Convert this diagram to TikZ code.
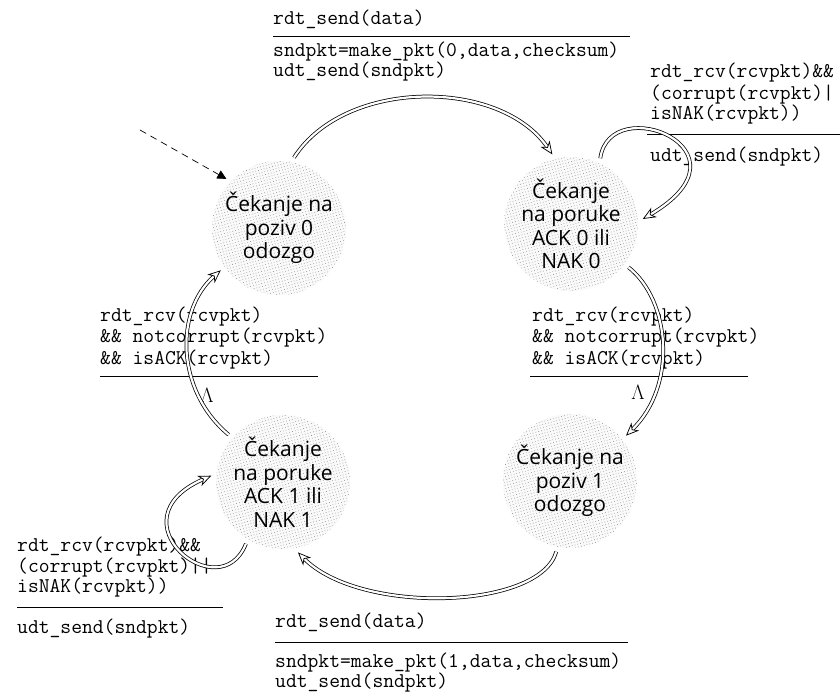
\documentclass[tikz,border=0pt]{standalone}
\usepackage{fontspec}
\setmainfont{Open Sans}
\usetikzlibrary{arrows.meta,patterns.meta}

\begin{document}
\begin{tikzpicture}[x=1pt,y=1pt,
  state/.style={circle, minimum size=134pt, inner sep=0pt, outer sep=5pt, align=center,
    font=\fontsize{21}{23.5}\selectfont,
    preaction={fill=gray!4},
    pattern={Dots[radius=0.42pt,distance=2.9pt,angle=15]}, pattern color=black!50},
  codeline/.style={anchor=base west, inner sep=0pt, font=\ttfamily\fontsize{21}{21}\selectfont},
  lam/.style={inner sep=0pt, font=\fontsize{21}{21}\selectfont},
  sepline/.style={line width=0.8pt},
  trans/.style={line width=0.75pt, double=white, double distance=2.2pt,
    -{Stealth[length=13pt,width=11pt,inset=4pt,fill=white]}},
  initarrow/.style={line width=0.7pt, dash pattern=on 7pt off 5pt,
    -{Triangle[length=9pt,width=9pt]}}
]
\useasboundingbox (0,0) rectangle (840,696);

% states of the sender
\node[state] (A) at (279,468) {Čekanje na\\poziv 0\\odozgo};
\node[state] (B) at (571,472) {Čekanje\\na poruke\\ACK 0 ili\\NAK 0};
\node[state] (C) at (570,215) {Čekanje na\\poziv 1\\odozgo};
\node[state] (D) at (283,214) {Čekanje\\na poruke\\ACK 1 ili\\NAK 1};

% event / action labels
\node[codeline] (top1) at (273,671) {rdt\_send(data)};
\node[codeline] (top2) at (273,639) {sndpkt=make\_pkt(0,data,checksum)};
\node[codeline] (top3) at (273,619) {udt\_send(sndpkt)};
\draw[sepline] (273,660) -- (630,660);

\node[codeline] (tr1) at (650,618) {rdt\_rcv(rcvpkt)\&\&};
\node[codeline] (tr2) at (650,596) {(corrupt(rcvpkt)|};
\node[codeline] (tr3) at (650,576) {isNAK(rcvpkt))};
\draw[sepline] (647,562) -- (840,562);
\node[codeline] (tr4) at (650,534) {udt\_send(sndpkt)};

\node[codeline] (mr1) at (532,374) {rdt\_rcv(rcvpkt)};
\node[codeline] (mr2) at (532,353) {\&\& notcorrupt(rcvpkt)};
\node[codeline] (mr3) at (532,331) {\&\& isACK(rcvpkt)};
\draw[sepline] (530,320) -- (748,320);
\node[lam] (lamR) at (638,304) {$\Lambda$};

\node[codeline] (ml1) at (100,374) {rdt\_rcv(rcvpkt)};
\node[codeline] (ml2) at (100,353) {\&\& notcorrupt(rcvpkt)};
\node[codeline] (ml3) at (100,331) {\&\& isACK(rcvpkt)};
\draw[sepline] (100,320) -- (318,320);
\node[lam] (lamL) at (207,301) {$\Lambda$};

\node[codeline] (bl1) at (17,144) {rdt\_rcv(rcvpkt)\&\&};
\node[codeline] (bl2) at (17,124) {(corrupt(rcvpkt)||};
\node[codeline] (bl3) at (17,103) {isNAK(rcvpkt))};
\draw[sepline] (17,89) -- (223,89);
\node[codeline] (bl4) at (17,63) {udt\_send(sndpkt)};

\node[codeline] (bt1) at (275,69) {rdt\_send(data)};
\draw[sepline] (275,54) -- (628,54);
\node[codeline] (bt2) at (275,29) {sndpkt=make\_pkt(1,data,checksum)};
\node[codeline] (bt3) at (275,9) {udt\_send(sndpkt)};

% initial transition
\coordinate (init) at (140,566);
\draw[initarrow] (init) -- (A.137);

% transitions
\draw[trans] (A.78) .. controls (345,618) and (500,618) .. (B.105);
\draw[trans] (B.66) .. controls (610,606) and (760,546) .. (B.4);
\draw[trans] (B.-37) .. controls (670,396) and (678,311) .. (C.39);
\draw[trans] (C.259) .. controls (540,86) and (360,81) .. (D.282);
\draw[trans] (D.239) .. controls (220,86) and (110,176) .. (D.175);
\draw[trans] (D.139) .. controls (175,306) and (175,386) .. (A.216);
\end{tikzpicture}
\end{document}
